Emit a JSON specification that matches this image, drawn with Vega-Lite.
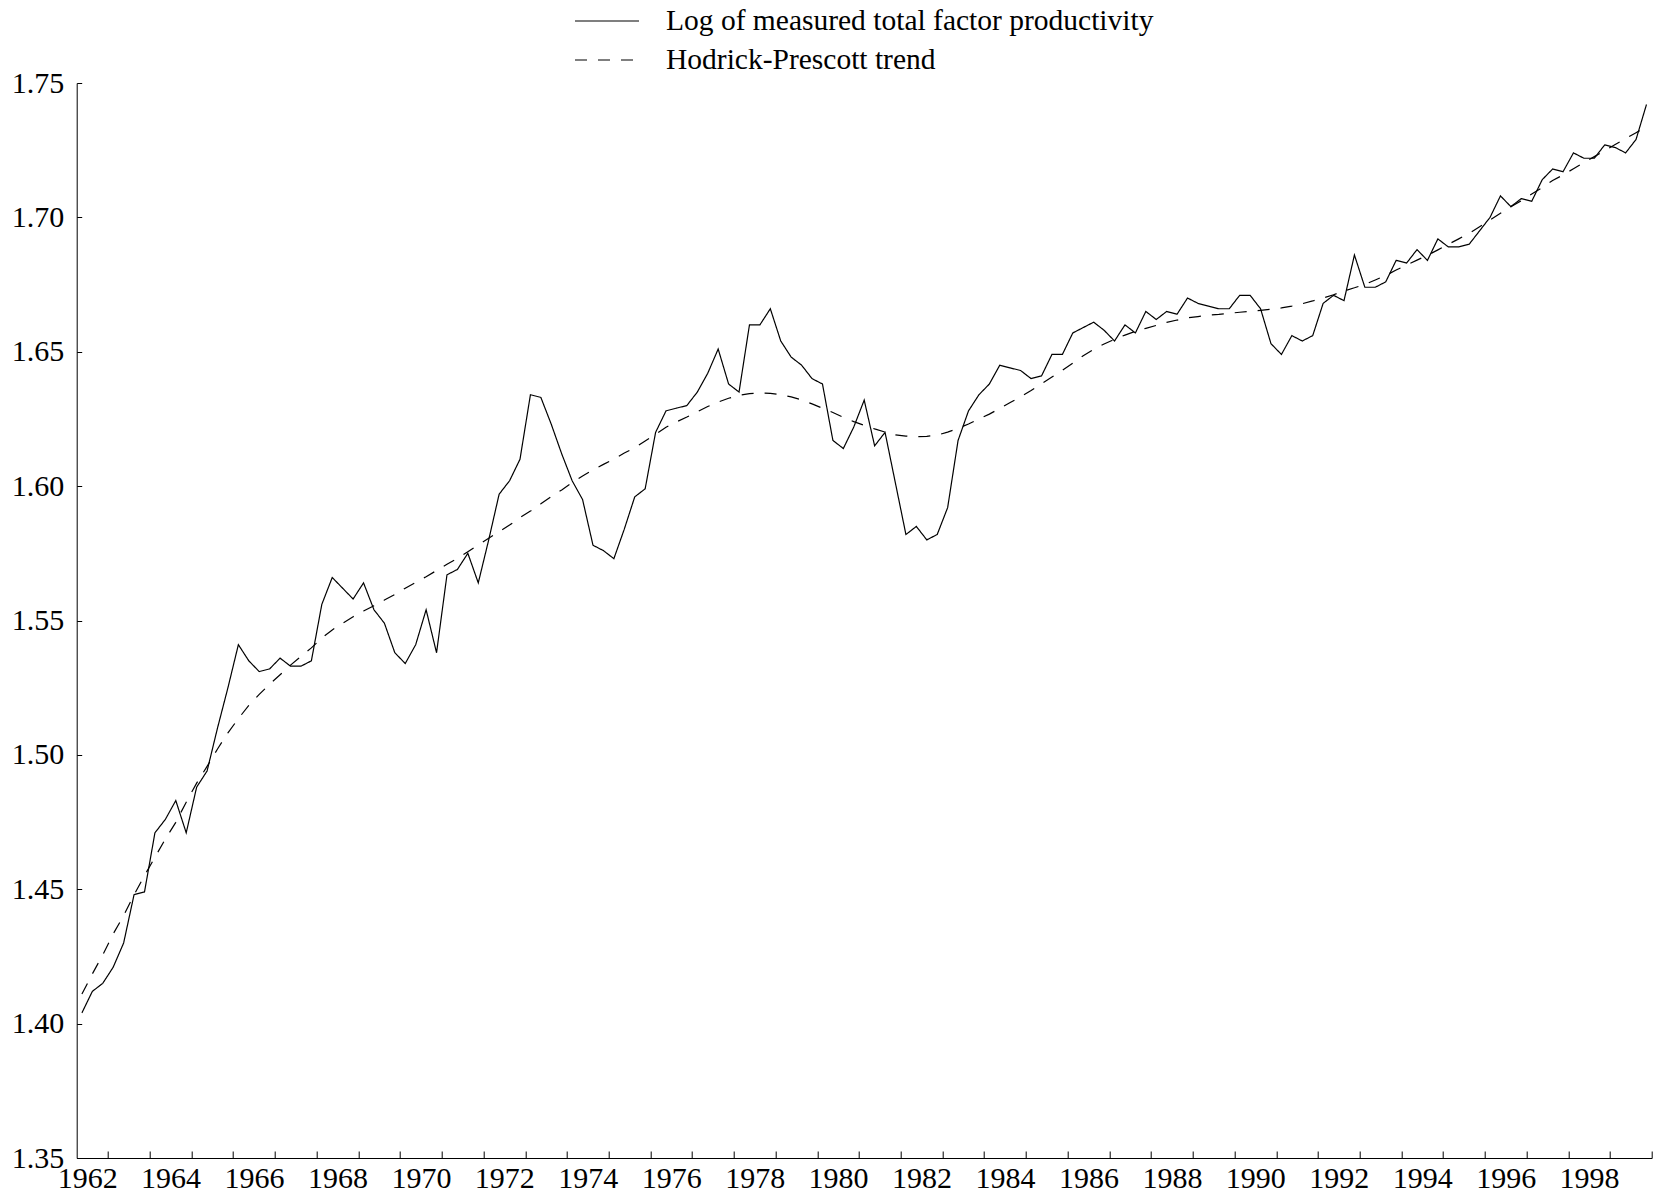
{
  "$schema": "https://vega.github.io/schema/vega-lite/v6.json",
  "width": 1575,
  "height": 1075,
  "autosize": "none",
  "padding": {"left": 76.7, "top": 83, "right": 4.3, "bottom": 35},
  "background": "white",
  "config": {"view": {"stroke": null}, "font": "Liberation Serif"},
  "data": {"values": [
    {"t":1962.375,"tfp":1.404,"trend":1.411},{"t":1962.625,"tfp":1.412,"trend":1.4185},{"t":1962.875,"tfp":1.415,"trend":1.4256},{"t":1963.125,"tfp":1.421,"trend":1.4334},
    {"t":1963.375,"tfp":1.430,"trend":1.4402},{"t":1963.625,"tfp":1.448,"trend":1.4479},{"t":1963.875,"tfp":1.449,"trend":1.4551},{"t":1964.125,"tfp":1.471,"trend":1.4619},
    {"t":1964.375,"tfp":1.476,"trend":1.4687},{"t":1964.625,"tfp":1.483,"trend":1.4749},{"t":1964.875,"tfp":1.471,"trend":1.4824},{"t":1965.125,"tfp":1.488,"trend":1.4895},
    {"t":1965.375,"tfp":1.494,"trend":1.4957},{"t":1965.625,"tfp":1.510,"trend":1.5022},{"t":1965.875,"tfp":1.525,"trend":1.5082},{"t":1966.125,"tfp":1.541,"trend":1.5135},
    {"t":1966.375,"tfp":1.535,"trend":1.5184},{"t":1966.625,"tfp":1.531,"trend":1.5225},{"t":1966.875,"tfp":1.532,"trend":1.5263},{"t":1967.125,"tfp":1.536,"trend":1.5298},
    {"t":1967.375,"tfp":1.533,"trend":1.5334},{"t":1967.625,"tfp":1.533,"trend":1.5366},{"t":1967.875,"tfp":1.535,"trend":1.5398},{"t":1968.125,"tfp":1.556,"trend":1.5435},
    {"t":1968.375,"tfp":1.566,"trend":1.5465},{"t":1968.625,"tfp":1.562,"trend":1.5490},{"t":1968.875,"tfp":1.558,"trend":1.5514},{"t":1969.125,"tfp":1.564,"trend":1.5535},
    {"t":1969.375,"tfp":1.554,"trend":1.5555},{"t":1969.625,"tfp":1.549,"trend":1.5576},{"t":1969.875,"tfp":1.538,"trend":1.5597},{"t":1970.125,"tfp":1.534,"trend":1.5620},
    {"t":1970.375,"tfp":1.541,"trend":1.5642},{"t":1970.625,"tfp":1.554,"trend":1.5663},{"t":1970.875,"tfp":1.538,"trend":1.5686},{"t":1971.125,"tfp":1.567,"trend":1.5709},
    {"t":1971.375,"tfp":1.569,"trend":1.5731},{"t":1971.625,"tfp":1.575,"trend":1.5756},{"t":1971.875,"tfp":1.564,"trend":1.5781},{"t":1972.125,"tfp":1.580,"trend":1.5806},
    {"t":1972.375,"tfp":1.597,"trend":1.5831},{"t":1972.625,"tfp":1.602,"trend":1.5855},{"t":1972.875,"tfp":1.610,"trend":1.5883},{"t":1973.125,"tfp":1.634,"trend":1.5907},
    {"t":1973.375,"tfp":1.633,"trend":1.5934},{"t":1973.625,"tfp":1.623,"trend":1.5961},{"t":1973.875,"tfp":1.612,"trend":1.5986},{"t":1974.125,"tfp":1.602,"trend":1.6013},
    {"t":1974.375,"tfp":1.595,"trend":1.6038},{"t":1974.625,"tfp":1.578,"trend":1.6060},{"t":1974.875,"tfp":1.576,"trend":1.6081},{"t":1975.125,"tfp":1.573,"trend":1.6101},
    {"t":1975.375,"tfp":1.584,"trend":1.6123},{"t":1975.625,"tfp":1.596,"trend":1.6143},{"t":1975.875,"tfp":1.599,"trend":1.6168},{"t":1976.125,"tfp":1.620,"trend":1.6193},
    {"t":1976.375,"tfp":1.628,"trend":1.6219},{"t":1976.625,"tfp":1.629,"trend":1.6239},{"t":1976.875,"tfp":1.630,"trend":1.6257},{"t":1977.125,"tfp":1.635,"trend":1.6277},
    {"t":1977.375,"tfp":1.642,"trend":1.6296},{"t":1977.625,"tfp":1.651,"trend":1.6313},{"t":1977.875,"tfp":1.638,"trend":1.6327},{"t":1978.125,"tfp":1.635,"trend":1.6338},
    {"t":1978.375,"tfp":1.660,"trend":1.6344},{"t":1978.625,"tfp":1.660,"trend":1.6347},{"t":1978.875,"tfp":1.666,"trend":1.6345},{"t":1979.125,"tfp":1.654,"trend":1.6340},
    {"t":1979.375,"tfp":1.648,"trend":1.6332},{"t":1979.625,"tfp":1.645,"trend":1.6321},{"t":1979.875,"tfp":1.640,"trend":1.6306},{"t":1980.125,"tfp":1.638,"trend":1.6290},
    {"t":1980.375,"tfp":1.617,"trend":1.6274},{"t":1980.625,"tfp":1.614,"trend":1.6256},{"t":1980.875,"tfp":1.622,"trend":1.6240},{"t":1981.125,"tfp":1.632,"trend":1.6226},
    {"t":1981.375,"tfp":1.615,"trend":1.6213},{"t":1981.625,"tfp":1.620,"trend":1.6201},{"t":1981.875,"tfp":1.601,"trend":1.6191},{"t":1982.125,"tfp":1.582,"trend":1.6186},
    {"t":1982.375,"tfp":1.585,"trend":1.6184},{"t":1982.625,"tfp":1.580,"trend":1.6185},{"t":1982.875,"tfp":1.582,"trend":1.6190},{"t":1983.125,"tfp":1.592,"trend":1.6201},
    {"t":1983.375,"tfp":1.617,"trend":1.6215},{"t":1983.625,"tfp":1.628,"trend":1.6231},{"t":1983.875,"tfp":1.634,"trend":1.6250},{"t":1984.125,"tfp":1.638,"trend":1.6268},
    {"t":1984.375,"tfp":1.645,"trend":1.6289},{"t":1984.625,"tfp":1.644,"trend":1.6311},{"t":1984.875,"tfp":1.643,"trend":1.6333},{"t":1985.125,"tfp":1.640,"trend":1.6356},
    {"t":1985.375,"tfp":1.641,"trend":1.6381},{"t":1985.625,"tfp":1.649,"trend":1.6406},{"t":1985.875,"tfp":1.649,"trend":1.6431},{"t":1986.125,"tfp":1.657,"trend":1.6458},
    {"t":1986.375,"tfp":1.659,"trend":1.6485},{"t":1986.625,"tfp":1.661,"trend":1.6509},{"t":1986.875,"tfp":1.658,"trend":1.6529},{"t":1987.125,"tfp":1.654,"trend":1.6546},
    {"t":1987.375,"tfp":1.660,"trend":1.6562},{"t":1987.625,"tfp":1.657,"trend":1.6576},{"t":1987.875,"tfp":1.665,"trend":1.6587},{"t":1988.125,"tfp":1.662,"trend":1.6598},
    {"t":1988.375,"tfp":1.665,"trend":1.6609},{"t":1988.625,"tfp":1.664,"trend":1.6618},{"t":1988.875,"tfp":1.670,"trend":1.6626},{"t":1989.125,"tfp":1.668,"trend":1.6631},
    {"t":1989.375,"tfp":1.667,"trend":1.6636},{"t":1989.625,"tfp":1.666,"trend":1.6639},{"t":1989.875,"tfp":1.666,"trend":1.6643},{"t":1990.125,"tfp":1.671,"trend":1.6647},
    {"t":1990.375,"tfp":1.671,"trend":1.6650},{"t":1990.625,"tfp":1.666,"trend":1.6654},{"t":1990.875,"tfp":1.653,"trend":1.6658},{"t":1991.125,"tfp":1.649,"trend":1.6663},
    {"t":1991.375,"tfp":1.656,"trend":1.6670},{"t":1991.625,"tfp":1.654,"trend":1.6679},{"t":1991.875,"tfp":1.656,"trend":1.6689},{"t":1992.125,"tfp":1.668,"trend":1.6700},
    {"t":1992.375,"tfp":1.671,"trend":1.6712},{"t":1992.625,"tfp":1.669,"trend":1.6726},{"t":1992.875,"tfp":1.686,"trend":1.6738},{"t":1993.125,"tfp":1.674,"trend":1.6751},
    {"t":1993.375,"tfp":1.674,"trend":1.6767},{"t":1993.625,"tfp":1.676,"trend":1.6784},{"t":1993.875,"tfp":1.684,"trend":1.6804},{"t":1994.125,"tfp":1.683,"trend":1.6823},
    {"t":1994.375,"tfp":1.688,"trend":1.6841},{"t":1994.625,"tfp":1.684,"trend":1.6859},{"t":1994.875,"tfp":1.692,"trend":1.6879},{"t":1995.125,"tfp":1.689,"trend":1.6900},
    {"t":1995.375,"tfp":1.689,"trend":1.6920},{"t":1995.625,"tfp":1.690,"trend":1.6941},{"t":1995.875,"tfp":1.695,"trend":1.6965},{"t":1996.125,"tfp":1.700,"trend":1.6990},
    {"t":1996.375,"tfp":1.708,"trend":1.7015},{"t":1996.625,"tfp":1.704,"trend":1.7040},{"t":1996.875,"tfp":1.707,"trend":1.7062},{"t":1997.125,"tfp":1.706,"trend":1.7087},
    {"t":1997.375,"tfp":1.714,"trend":1.7111},{"t":1997.625,"tfp":1.718,"trend":1.7137},{"t":1997.875,"tfp":1.717,"trend":1.7158},{"t":1998.125,"tfp":1.724,"trend":1.7181},
    {"t":1998.375,"tfp":1.722,"trend":1.7204},{"t":1998.625,"tfp":1.722,"trend":1.7226},{"t":1998.875,"tfp":1.727,"trend":1.7248},{"t":1999.125,"tfp":1.726,"trend":1.7271},
    {"t":1999.375,"tfp":1.724,"trend":1.7293},{"t":1999.625,"tfp":1.729,"trend":1.7315},{"t":1999.875,"tfp":1.742,"trend":1.7338}
  ]},
  "transform": [{"fold": ["tfp", "trend"], "as": ["series", "value"]}],
  "mark": {"type": "line", "color": "black", "strokeWidth": 1.2},
  "encoding": {
    "x": {
      "field": "t", "type": "quantitative",
      "scale": {"domain": [1962.25, 2000], "nice": false, "zero": false},
      "axis": {
        "title": null, "grid": false,
        "values": [1963,1964,1965,1966,1967,1968,1969,1970,1971,1972,1973,1974,1975,1976,1977,1978,1979,1980,1981,1982,1983,1984,1985,1986,1987,1988,1989,1990,1991,1992,1993,1994,1995,1996,1997,1998,1999,2000],
        "labelExpr": "datum.value % 2 == 1 ? format(datum.value - 1, 'd') : ''",
        "labelOffset": -20.86,
        "labelOverlap": false, "labelFlush": false,
        "tickSize": -7, "tickColor": "black", "tickWidth": 1,
        "domainColor": "black", "domainWidth": 1,
        "labelFont": "Liberation Serif", "labelFontSize": 30, "labelColor": "black",
        "labelPadding": 12
      }
    },
    "y": {
      "field": "value", "type": "quantitative",
      "scale": {"domain": [1.35, 1.75], "nice": false, "zero": false},
      "axis": {
        "title": null, "grid": false,
        "values": [1.35, 1.4, 1.45, 1.5, 1.55, 1.6, 1.65, 1.7, 1.75],
        "format": ".2f",
        "tickSize": -5, "tickColor": "black", "tickWidth": 1,
        "domainColor": "black", "domainWidth": 1,
        "labelFont": "Liberation Serif", "labelFontSize": 30, "labelColor": "black",
        "labelPadding": 18
      }
    },
    "strokeDash": {
      "field": "series", "type": "nominal",
      "scale": {"domain": ["tfp", "trend"], "range": [[1, 0], [12, 11]]},
      "legend": {
        "orient": "none", "legendX": 513.3, "legendY": -79,
        "title": null, "padding": 0,
        "symbolType": "M-2,0H2", "symbolSize": 1024, "symbolStrokeWidth": 1.2, "symbolStrokeColor": "black", "symbolFillColor": "transparent",
        "labelExpr": "datum.value == 'tfp' ? 'Log of measured total factor productivity' : 'Hodrick-Prescott trend'",
        "labelFont": "Liberation Serif", "labelFontSize": 29.5, "labelColor": "black",
        "labelOffset": 42, "rowPadding": 7, "labelLimit": 0
      }
    }
  }
}
